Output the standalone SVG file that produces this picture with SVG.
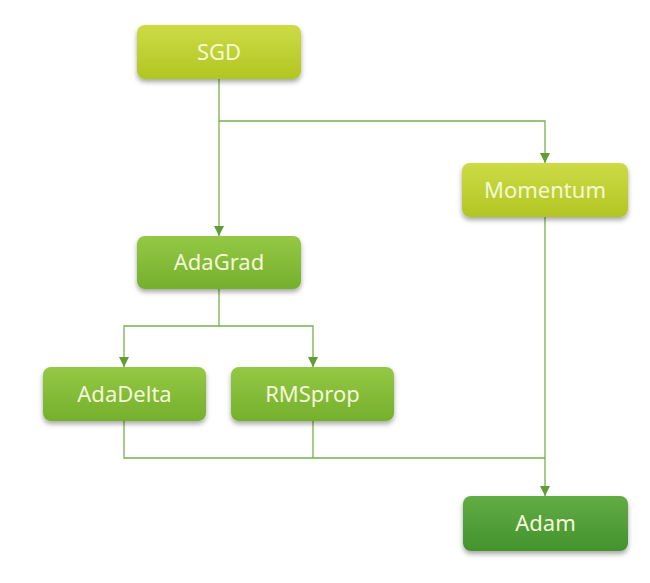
<svg xmlns="http://www.w3.org/2000/svg" width="650" height="583" viewBox="0 0 650 583">
<defs>
<linearGradient id="gY" x1="0" y1="0" x2="0" y2="1"><stop offset="0" stop-color="#cddb45"/><stop offset="1" stop-color="#b2c622"/></linearGradient>
<linearGradient id="gG" x1="0" y1="0" x2="0" y2="1"><stop offset="0" stop-color="#95c845"/><stop offset="1" stop-color="#74b02c"/></linearGradient>
<linearGradient id="gD" x1="0" y1="0" x2="0" y2="1"><stop offset="0" stop-color="#62ac44"/><stop offset="1" stop-color="#44922e"/></linearGradient>
<filter id="sh" x="-10%" y="-10%" width="120%" height="140%"><feDropShadow dx="0" dy="3" stdDeviation="2.5" flood-color="#000" flood-opacity="0.35"/></filter>
<marker id="arr" viewBox="0 0 10 10" refX="10" refY="5" markerWidth="10" markerHeight="10" markerUnits="userSpaceOnUse" orient="auto"><path d="M0,0 L10,5 L0,10 z" fill="#5e9e35"/></marker>
</defs>
<style>
.b{filter:url(#sh)}
.t{font-family:"Noto Sans","Open Sans",sans-serif;font-size:22px;fill:#f4f8d8;text-anchor:middle}
.c{fill:none;stroke:#78b04e;stroke-width:1.3}
</style>
<rect width="650" height="583" fill="#fff"/>
<g id="connectors">
<path class="c" d="M219,79 V236" marker-end="url(#arr)"/>
<path class="c" d="M219,121 H545 V163" marker-end="url(#arr)"/>
<path class="c" d="M219,289 V326 H124 V367" marker-end="url(#arr)"/>
<path class="c" d="M219,326 H313 V367" marker-end="url(#arr)"/>
<path class="c" d="M545,217 V496" marker-end="url(#arr)"/>
<path class="c" d="M124,421 V458 H545"/>
<path class="c" d="M313,421 V458"/>
</g>
<g id="sgd"><rect class="b" x="137" y="25" width="164" height="54" rx="8" fill="url(#gY)"/><text class="t" x="219" y="60">SGD</text></g>
<g id="momentum"><rect class="b" x="462" y="163" width="166" height="54" rx="8" fill="url(#gY)"/><text class="t" x="545" y="198">Momentum</text></g>
<g id="adagrad"><rect class="b" x="137" y="236" width="164" height="53" rx="8" fill="url(#gG)"/><text class="t" x="219" y="270">AdaGrad</text></g>
<g id="adadelta"><rect class="b" x="43" y="367" width="163" height="54" rx="8" fill="url(#gG)"/><text class="t" x="124.5" y="402">AdaDelta</text></g>
<g id="rmsprop"><rect class="b" x="231" y="367" width="163" height="54" rx="8" fill="url(#gG)"/><text class="t" x="312.5" y="402">RMSprop</text></g>
<g id="adam"><rect class="b" x="463" y="496" width="165" height="55" rx="8" fill="url(#gD)"/><text class="t" x="545.5" y="531">Adam</text></g>
</svg>
